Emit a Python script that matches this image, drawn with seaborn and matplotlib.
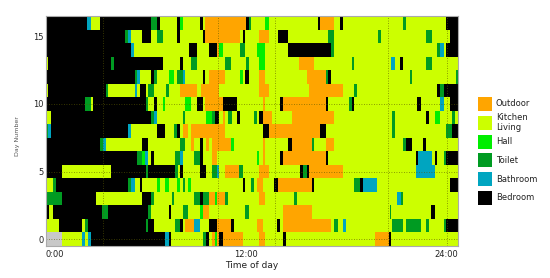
import numpy as np
import matplotlib
matplotlib.use("Agg")
import matplotlib.pyplot as plt
from matplotlib.colors import ListedColormap
from matplotlib.patches import Rectangle
import seaborn as sns

# room labels, bottom of legend first
rooms = ["N", "D", "B", "T", "H", "K", "O"]
room_colors = ["#C8C8C8", "#000000", "#00A5C0", "#009B22", "#00EE00", "#CCFF00", "#FFA500"]
legend_labels = ["Outdoor", "Kitchen\nLiving", "Hall", "Toilet", "Bathroom", "Bedroom"]
legend_codes = ["O", "K", "H", "T", "B", "D"]

# (start hour, room) for each day
day_0 = [(0,"N"),(.98,"K"),(2.14,"B"),(2.34,"K"),(2.5,"B"),(2.68,"D"),(7.14,"B"),(7.34,"D"),(7.5,"K"),(9.42,"T"),(9.58,"D"),(9.78,"K"),(9.92,"O"),(10.1,"H"),(10.24,"O"),(10.38,"D"),(10.58,"O"),(11.78,"K"),(12.78,"O"),(13.14,"K"),(14.22,"D"),(14.38,"K"),(19.72,"O"),(20.54,"D"),(20.68,"K")]
day_1 = [(0,"K"),(.78,"D"),(2.14,"K"),(2.34,"T"),(2.5,"D"),(5.98,"T"),(6.12,"D"),(6.48,"K"),(7.72,"T"),(8.04,"D"),(8.18,"K"),(8.34,"O"),(8.88,"B"),(9.24,"K"),(9.78,"D"),(10.24,"O"),(11.08,"D"),(11.28,"K"),(12.64,"O"),(12.98,"K"),(13.84,"D"),(14.02,"K"),(14.22,"O"),(17.1,"K"),(17.26,"T"),(17.48,"K"),(17.82,"B"),(17.98,"K"),(20.72,"T"),(21.38,"K"),(21.58,"T"),(22.48,"K"),(22.76,"T"),(22.92,"K"),(23.82,"T"),(23.98,"D")]
day_2 = [(0,"D"),(.16,"K"),(.42,"D"),(3.38,"T"),(3.72,"D"),(6.12,"T"),(6.28,"K"),(7.34,"D"),(7.5,"K"),(8.18,"T"),(8.52,"K"),(9.24,"H"),(9.4,"O"),(9.74,"K"),(11.94,"T"),(12.14,"K"),(14.22,"O"),(15.92,"K"),(20.58,"T"),(20.68,"K"),(23.08,"D"),(23.28,"K")]
day_3 = [(0,"T"),(.98,"D"),(3.02,"K"),(5.78,"D"),(6.28,"T"),(6.44,"K"),(7.52,"T"),(7.68,"K"),(8.88,"T"),(9.24,"D"),(9.4,"T"),(9.74,"O"),(10.1,"H"),(10.24,"O"),(10.74,"T"),(10.92,"K"),(12.78,"O"),(13.14,"K"),(14.88,"T"),(15.04,"K"),(21.04,"B"),(21.24,"T"),(21.38,"K")]
day_4 = [(0,"K"),(.42,"T"),(.62,"D"),(4.92,"T"),(5.12,"B"),(5.32,"K"),(5.64,"D"),(5.78,"K"),(6.62,"H"),(6.82,"K"),(7.14,"H"),(7.34,"K"),(7.84,"H"),(8.04,"K"),(8.18,"T"),(8.34,"K"),(8.52,"H"),(8.68,"K"),(11.82,"D"),(11.94,"K"),(12.3,"T"),(12.44,"K"),(12.64,"O"),(12.98,"K"),(13.68,"D"),(13.88,"O"),(15.92,"D"),(16.08,"K"),(18.48,"T"),(18.82,"D"),(18.98,"B"),(19.84,"K"),(24.18,"D")]
day_5 = [(0,"D"),(.98,"K"),(3.92,"D"),(5.98,"T"),(6.12,"D"),(7.72,"T"),(7.88,"K"),(8.04,"D"),(8.18,"K"),(9.24,"D"),(9.58,"K"),(9.92,"T"),(10.24,"B"),(10.38,"K"),(10.74,"O"),(11.58,"T"),(11.78,"K"),(12.78,"O"),(13.34,"K"),(15.22,"D"),(15.38,"T"),(15.62,"D"),(15.78,"O"),(17.78,"K"),(22.14,"B"),(23.28,"K")]
day_6 = [(0,"D"),(5.44,"T"),(5.78,"H"),(5.92,"B"),(6.12,"K"),(6.28,"D"),(6.44,"K"),(7.72,"T"),(8.04,"B"),(8.18,"K"),(8.88,"T"),(9.24,"D"),(9.4,"K"),(9.92,"O"),(10.24,"K"),(12.64,"H"),(12.78,"K"),(12.98,"O"),(13.14,"K"),(14.02,"D"),(14.22,"O"),(16.78,"D"),(16.92,"K"),(22.14,"D"),(22.26,"B"),(23.1,"K"),(23.28,"D"),(23.42,"K"),(23.82,"T"),(23.98,"D")]
day_7 = [(0,"D"),(3.24,"T"),(3.42,"B"),(3.58,"K"),(5.78,"D"),(6.12,"K"),(8.04,"T"),(8.34,"K"),(8.68,"O"),(8.88,"K"),(9.22,"D"),(9.4,"K"),(9.58,"O"),(9.78,"K"),(9.92,"O"),(11.08,"H"),(11.28,"K"),(12.98,"O"),(13.14,"K"),(14.52,"D"),(14.72,"O"),(15.92,"T"),(16.08,"K"),(16.78,"O"),(17.26,"K"),(21.38,"T"),(21.58,"D"),(21.92,"K"),(22.58,"D"),(22.76,"K")]
day_8 = [(0,"T"),(.12,"B"),(.28,"D"),(4.92,"B"),(5.12,"K"),(6.62,"D"),(7.14,"K"),(7.68,"T"),(7.84,"D"),(8.04,"K"),(8.18,"O"),(8.52,"K"),(8.68,"O"),(10.74,"K"),(12.98,"D"),(13.34,"O"),(16.42,"D"),(16.78,"K"),(20.72,"T"),(20.92,"K"),(23.98,"T"),(24.32,"D")]
day_9 = [(0,"K"),(.28,"D"),(6.28,"T"),(6.44,"B"),(6.62,"K"),(8.18,"T"),(8.34,"K"),(9.58,"H"),(9.92,"T"),(10.1,"D"),(10.38,"K"),(10.58,"O"),(10.74,"K"),(10.92,"T"),(11.12,"K"),(11.46,"D"),(11.62,"K"),(12.44,"T"),(12.64,"K"),(12.78,"D"),(12.98,"O"),(13.52,"K"),(14.72,"O"),(17.26,"K"),(20.72,"T"),(20.92,"K"),(22.76,"D"),(22.92,"K"),(23.28,"H"),(23.62,"K"),(24.32,"T"),(24.52,"K")]
day_10 = [(0,"D"),(2.34,"T"),(2.68,"K"),(2.84,"D"),(5.98,"T"),(6.12,"K"),(6.48,"D"),(6.62,"K"),(6.98,"H"),(7.14,"K"),(8.34,"H"),(8.68,"K"),(9.02,"D"),(9.4,"K"),(9.54,"O"),(10.58,"D"),(11.46,"K"),(12.98,"O"),(13.14,"K"),(14.02,"D"),(14.22,"O"),(16.78,"D"),(16.92,"K"),(18.14,"T"),(18.32,"D"),(18.48,"K"),(22.24,"D"),(22.44,"K"),(23.62,"B"),(23.82,"K"),(24.18,"D")]
day_11 = [(0,"K"),(.1,"D"),(3.58,"T"),(3.74,"K"),(5.32,"B"),(5.48,"K"),(5.64,"D"),(5.98,"K"),(6.12,"T"),(6.48,"K"),(7.18,"T"),(7.34,"K"),(8.04,"O"),(9.02,"K"),(9.26,"O"),(10.38,"K"),(12.78,"O"),(13.34,"K"),(15.78,"O"),(17.78,"K"),(18.48,"T"),(18.64,"K"),(23.42,"D"),(23.62,"T"),(23.82,"D")]
day_12 = [(0,"D"),(5.32,"T"),(5.46,"B"),(5.64,"K"),(6.28,"D"),(6.48,"T"),(6.62,"K"),(7.34,"H"),(7.68,"K"),(7.84,"T"),(8.18,"B"),(8.34,"K"),(9.42,"D"),(9.54,"K"),(9.78,"O"),(10.74,"K"),(11.62,"H"),(11.82,"K"),(11.94,"D"),(12.14,"K"),(12.78,"O"),(13.14,"K"),(15.62,"O"),(16.78,"T"),(16.92,"D"),(17.1,"K"),(21.78,"T"),(21.92,"K"),(24.54,"T")]
day_13 = [(0,"K"),(.1,"D"),(3.92,"T"),(4.08,"D"),(6.98,"K"),(8.04,"D"),(8.2,"K"),(8.7,"T"),(9.02,"K"),(10.74,"T"),(11.06,"K"),(11.98,"T"),(12.14,"K"),(12.78,"H"),(13.14,"K"),(15.18,"O"),(16.08,"K"),(18.32,"T"),(18.48,"K"),(20.68,"B"),(20.92,"K"),(21.22,"D"),(21.38,"K"),(22.76,"T"),(23.1,"K")]
day_14 = [(0,"D"),(5.08,"B"),(5.28,"K"),(8.54,"D"),(9.02,"K"),(9.78,"D"),(10.24,"O"),(10.38,"H"),(10.58,"K"),(11.62,"T"),(11.94,"K"),(12.64,"H"),(13.14,"K"),(14.52,"D"),(17.1,"T"),(17.26,"K"),(23.42,"T"),(23.58,"B"),(23.82,"K"),(23.98,"D")]
day_15 = [(0,"D"),(4.76,"T"),(4.92,"B"),(5.08,"K"),(5.78,"D"),(6.28,"K"),(6.62,"T"),(6.98,"K"),(7.84,"D"),(8.04,"K"),(9.4,"D"),(9.54,"O"),(11.64,"K"),(11.78,"D"),(11.94,"K"),(12.78,"O"),(13.34,"K"),(13.88,"D"),(14.52,"K"),(16.92,"T"),(17.26,"K"),(19.88,"T"),(20.06,"K"),(22.76,"T"),(23.1,"K"),(24.18,"D")]
day_16 = [(0,"D"),(2.48,"B"),(2.68,"K"),(3.22,"D"),(6.28,"T"),(6.62,"D"),(6.82,"K"),(7.84,"D"),(8.04,"H"),(8.18,"K"),(9.22,"D"),(9.4,"K"),(9.54,"O"),(11.98,"D"),(12.14,"T"),(12.3,"K"),(13.14,"H"),(13.34,"K"),(16.28,"D"),(16.42,"O"),(17.26,"K"),(17.64,"D"),(17.78,"K"),(21.38,"T"),(21.58,"K"),(23.98,"D")]

days = [day_0, day_1, day_2, day_3, day_4, day_5, day_6, day_7, day_8,
        day_9, day_10, day_11, day_12, day_13, day_14, day_15, day_16]

grid_hours = [3.42, 10.3, 13.7, 20.5, 24.0]
grid_days = [0, 5, 10]
day_ticks = [0, 5, 10, 15]
hour_ticks = [0, 12, 24]
hour_labels = ["0:00", "12:00", "24:00"]
end_hour = 24.68
step = 0.02

# Build the day-by-time matrix from the segments
n_cols = int(round(end_hour / step))
matrix = np.zeros((len(days), n_cols), dtype=int)
for i, segs in enumerate(days):
    for j, (start, room) in enumerate(segs):
        stop = segs[j + 1][0] if j + 1 < len(segs) else end_hour
        matrix[i, int(round(start / step)):int(round(stop / step))] = rooms.index(room)

sns.set_style("white")
fig = plt.figure(figsize=(5.5, 2.78), dpi=100)
W, H = 550, 278
ax = fig.add_axes([46 / W, 1 - 246 / H, 412 / W, 230 / H])

sns.heatmap(matrix, ax=ax, cmap=ListedColormap(room_colors), vmin=-0.5, vmax=6.5,
            cbar=False, xticklabels=False, yticklabels=False)
ax.invert_yaxis()

for h in grid_hours:
    ax.axvline(h / step, color="#5A5A00", lw=0.6, ls=(0, (1, 2)), alpha=0.8)
for d in grid_days:
    ax.axhline(d + 0.5, color="#5A5A00", lw=0.6, ls=(0, (1, 2)), alpha=0.8)

ax.set_xticks([h / step for h in hour_ticks])
ax.set_xticklabels(hour_labels, fontsize=6, color="#222222")
ax.get_xticklabels()[0].set_ha("left")
ax.set_yticks([d + 0.5 for d in day_ticks])
ax.set_yticklabels([str(d) for d in day_ticks], fontsize=6, color="#222222", rotation=0)
ax.tick_params(axis="x", length=0, pad=3)
ax.tick_params(axis="y", length=0, pad=1.5)
ax.set_xlabel("Time of day", fontsize=6.5, color="#222222", labelpad=1)
fig.text(18 / W, 1 - 136 / H, "Day Number", rotation=90, fontsize=4.5,
         color="#555555", ha="center", va="center")
for s in ax.spines.values():
    s.set_visible(True)
    s.set_color("#AAAAAA")
    s.set_linewidth(0.8)

# Legend as colour swatches beside the plot
for i, (code, label) in enumerate(zip(legend_codes, legend_labels)):
    yc = 104 + i * 18.8
    fig.patches.append(Rectangle((478 / W, 1 - (yc + 7) / H), 14 / W, 14 / H,
                                 transform=fig.transFigure, figure=fig,
                                 facecolor=room_colors[rooms.index(code)], edgecolor="none"))
    fig.text(496 / W, 1 - yc / H, label, fontsize=6, color="#222222",
             ha="left", va="center", linespacing=1.2)

fig.savefig("out.png", dpi=100)
